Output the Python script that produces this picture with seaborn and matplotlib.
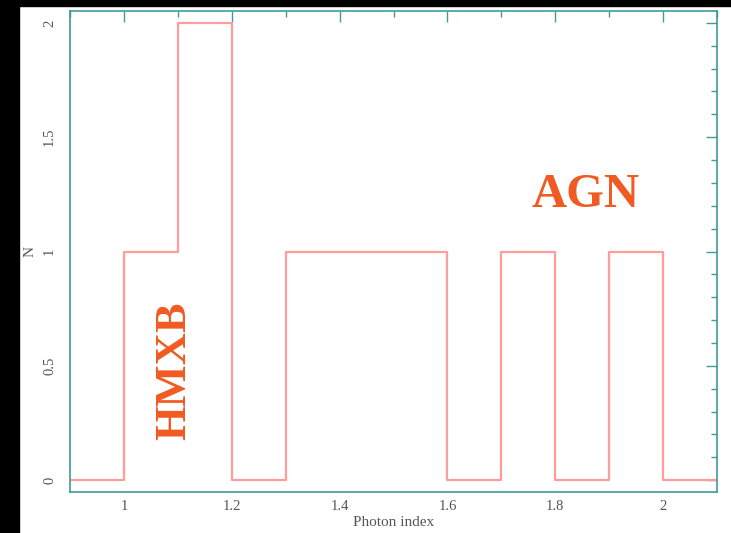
import matplotlib
matplotlib.use("Agg")
import matplotlib.pyplot as plt
from matplotlib.patches import Rectangle
from matplotlib.ticker import MultipleLocator
import seaborn as sns
import numpy as np

# Data: photon index histogram
bin_edges = [0.9, 1.0, 1.1, 1.2, 1.3, 1.4, 1.5, 1.6, 1.7, 1.8, 1.9, 2.0, 2.1]
counts = [0, 1, 2, 0, 1, 1, 1, 0, 1, 0, 1, 0]
x_ticks = [1.0, 1.2, 1.4, 1.6, 1.8, 2.0]
x_tick_labels = ["1", "1.2", "1.4", "1.6", "1.8", "2"]
y_ticks = [0, 0.5, 1.0, 1.5, 2.0]
y_tick_labels = ["0", "0.5", "1", "1.5", "2"]

bin_centers = [(a + b) / 2 for a, b in zip(bin_edges[:-1], bin_edges[1:])]

sns.set_style("white")
plt.rcParams["font.family"] = ["Liberation Serif", "DejaVu Serif"]

LINE = "#ff9d9d"
AXC = "#3f9a9a"
TXT = "#f15a22"

fig = plt.figure(figsize=(7.31, 5.33), dpi=100)
fig.patch.set_facecolor("white")
ax = fig.add_axes([70/731, 1-492/533, (717-70)/731, (492-11)/533])

sns.histplot(x=bin_centers, weights=counts, bins=bin_edges, element="step",
             fill=False, color=LINE, linewidth=1.6, ax=ax)

ax.set_xlim(0.9, 2.1)
ax.set_ylim(-0.052, 2.052)
ax.set_xticks(x_ticks)
ax.set_xticklabels(x_tick_labels)
ax.set_yticks(y_ticks)
ax.set_yticklabels(y_tick_labels, rotation=90, va="center")
ax.xaxis.set_minor_locator(MultipleLocator(0.1))
ax.yaxis.set_minor_locator(MultipleLocator(0.1))
ax.tick_params(which="both", direction="in", top=True, right=True,
               color=AXC, labelcolor="#555555", labelsize=10.5, width=1.0)
ax.tick_params(which="major", length=8)
ax.tick_params(which="minor", length=4)
ax.tick_params(axis="x", pad=6)
ax.tick_params(axis="y", pad=10)
for s in ax.spines.values():
    s.set_color(AXC)
    s.set_linewidth(1.2)
    s.set_visible(True)

ax.set_xlabel("Photon index", color="#555555", fontsize=11, labelpad=2)
ax.set_ylabel("N", color="#555555", fontsize=11, labelpad=5)

ax.text(1.093, 0.48, "HMXB", rotation=90, color=TXT, fontsize=32,
        fontweight="bold", ha="center", va="center")
ax.text(1.857, 1.245, "AGN", color=TXT, fontsize=35,
        fontweight="bold", ha="center", va="center")

# black border strips
fig.patches.append(Rectangle((0, 0), 19/731, 1, transform=fig.transFigure,
                             color="black", zorder=10))
fig.patches.append(Rectangle((0, 1-6/533), 1, 6/533, transform=fig.transFigure,
                             color="black", zorder=10))

fig.savefig("out.png", dpi=100)
